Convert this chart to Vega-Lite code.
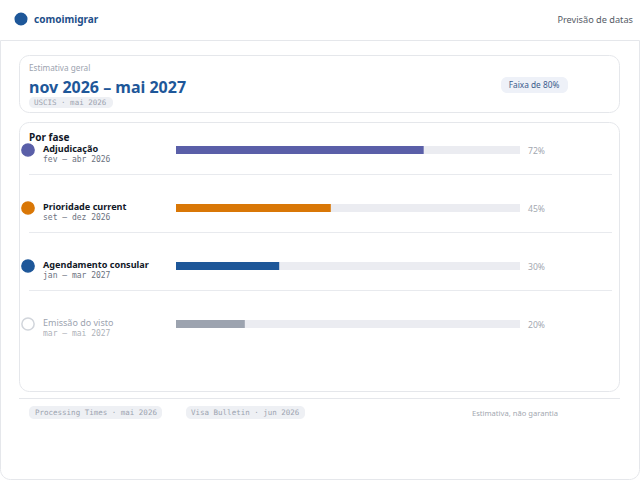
{
  "$schema": "https://vega.github.io/schema/vega-lite/v6.json",
  "width": 640,
  "height": 480,
  "autosize": {"type": "none"},
  "padding": 0,
  "background": "#ffffff",
  "config": {"view": {"stroke": null}, "text": {"font": "Noto Sans"}},
  "datasets": {
    "fases": [
      {"fase": "Adjudicação", "periodo": "fev – abr 2026", "pct": 0.72, "estado": "ativo", "ultima": false},
      {"fase": "Prioridade current", "periodo": "set – dez 2026", "pct": 0.45, "estado": "ativo", "ultima": false},
      {"fase": "Agendamento consular", "periodo": "jan – mar 2027", "pct": 0.30, "estado": "ativo", "ultima": false},
      {"fase": "Emissão do visto", "periodo": "mar – mai 2027", "pct": 0.20, "estado": "pendente", "ultima": true}
    ],
    "resumo": [
      {"marca": "comoimigrar", "pagina": "Previsão de datas", "titulo": "Estimativa geral", "estimativa": "nov 2026 – mai 2027", "fonte": "USCIS · mai 2026", "faixa": "Faixa de 80%", "secao": "Por fase", "fonte1": "Processing Times · mai 2026", "fonte2": "Visa Bulletin · jun 2026", "aviso": "Estimativa, não garantia"}
    ]
  },
  "layer": [
    {
      "data": {"name": "resumo"},
      "mark": {"type": "rect", "fill": "#ffffff", "stroke": "#e5e7eb", "strokeWidth": 1, "cornerRadiusBottomLeft": 10, "cornerRadiusBottomRight": 10},
      "encoding": {"x": {"value": 0.5}, "x2": {"value": 639.5}, "y": {"value": 40.5}, "y2": {"value": 479.5}}
    },
    {
      "data": {"name": "resumo"},
      "mark": {"type": "rect", "fill": "#ffffff", "stroke": "#e5e7eb", "strokeWidth": 1, "cornerRadius": 10},
      "encoding": {"x": {"value": 19.5}, "x2": {"value": 619.5}, "y": {"value": 55.5}, "y2": {"value": 112.5}}
    },
    {
      "data": {"name": "resumo"},
      "mark": {"type": "rect", "fill": "#ffffff", "stroke": "#e5e7eb", "strokeWidth": 1, "cornerRadius": 10},
      "encoding": {"x": {"value": 19.5}, "x2": {"value": 619.5}, "y": {"value": 122.5}, "y2": {"value": 391.5}}
    },
    {
      "data": {"name": "resumo"},
      "mark": {"type": "rule", "stroke": "#e5e7eb", "strokeWidth": 1},
      "encoding": {"x": {"value": 19}, "x2": {"value": 620}, "y": {"value": 398.5}}
    },
    {
      "data": {"name": "resumo"},
      "mark": {"type": "rect", "fill": "#eef0f4", "cornerRadius": 5},
      "encoding": {"x": {"value": 29}, "x2": {"value": 113}, "y": {"value": 97}, "y2": {"value": 108}}
    },
    {
      "data": {"name": "resumo"},
      "mark": {"type": "rect", "fill": "#eef1f8", "cornerRadius": 6},
      "encoding": {"x": {"value": 501}, "x2": {"value": 568}, "y": {"value": 77}, "y2": {"value": 93}}
    },
    {
      "data": {"name": "resumo"},
      "mark": {"type": "rect", "fill": "#eef0f4", "cornerRadius": 5},
      "encoding": {"x": {"value": 29}, "x2": {"value": 162}, "y": {"value": 406}, "y2": {"value": 419}}
    },
    {
      "data": {"name": "resumo"},
      "mark": {"type": "rect", "fill": "#eef0f4", "cornerRadius": 5},
      "encoding": {"x": {"value": 186}, "x2": {"value": 305}, "y": {"value": 406}, "y2": {"value": 419}}
    },
    {
      "data": {"name": "resumo"},
      "mark": {"type": "circle", "fill": "#1e5799", "size": 170, "opacity": 1},
      "encoding": {"x": {"value": 21}, "y": {"value": 19}}
    },
    {
      "data": {"name": "resumo"},
      "mark": {"type": "text", "align": "left", "baseline": "middle", "fontWeight": "bold", "fontSize": 10, "fill": "#1e4f8a"},
      "encoding": {"x": {"value": 34}, "y": {"value": 20}, "text": {"field": "marca"}}
    },
    {
      "data": {"name": "resumo"},
      "mark": {"type": "text", "align": "right", "baseline": "middle", "fontSize": 9.2, "fill": "#555b66"},
      "encoding": {"x": {"value": 633}, "y": {"value": 20}, "text": {"field": "pagina"}}
    },
    {
      "data": {"name": "resumo"},
      "mark": {"type": "text", "align": "left", "baseline": "middle", "fontSize": 8.2, "fill": "#9ca3af"},
      "encoding": {"x": {"value": 29}, "y": {"value": 69}, "text": {"field": "titulo"}}
    },
    {
      "data": {"name": "resumo"},
      "mark": {"type": "text", "align": "left", "baseline": "alphabetic", "fontSize": 16, "fontWeight": "bold", "fill": "#1e5799"},
      "encoding": {"x": {"value": 29}, "y": {"value": 93}, "text": {"field": "estimativa"}}
    },
    {
      "data": {"name": "resumo"},
      "mark": {"type": "text", "align": "left", "baseline": "middle", "fontSize": 7.5, "font": "DejaVu Sans Mono", "fill": "#9ca3af"},
      "encoding": {"x": {"value": 34}, "y": {"value": 103}, "text": {"field": "fonte"}}
    },
    {
      "data": {"name": "resumo"},
      "mark": {"type": "text", "align": "center", "baseline": "middle", "fontSize": 8.3, "fill": "#3b5b8c"},
      "encoding": {"x": {"value": 534}, "y": {"value": 86}, "text": {"field": "faixa"}}
    },
    {
      "data": {"name": "resumo"},
      "mark": {"type": "text", "align": "left", "baseline": "alphabetic", "fontSize": 10, "fontWeight": "bold", "fill": "#111827"},
      "encoding": {"x": {"value": 29}, "y": {"value": 141}, "text": {"field": "secao"}}
    },
    {
      "data": {"name": "resumo"},
      "mark": {"type": "text", "align": "left", "baseline": "middle", "fontSize": 7.5, "font": "DejaVu Sans Mono", "fill": "#9ca3af"},
      "encoding": {"x": {"value": 35}, "y": {"value": 413}, "text": {"field": "fonte1"}}
    },
    {
      "data": {"name": "resumo"},
      "mark": {"type": "text", "align": "left", "baseline": "middle", "fontSize": 7.5, "font": "DejaVu Sans Mono", "fill": "#9ca3af"},
      "encoding": {"x": {"value": 191}, "y": {"value": 413}, "text": {"field": "fonte2"}}
    },
    {
      "data": {"name": "resumo"},
      "mark": {"type": "text", "align": "center", "baseline": "middle", "fontSize": 7.6, "fill": "#a3a8b0"},
      "encoding": {"x": {"value": 515}, "y": {"value": 414}, "text": {"field": "aviso"}}
    },
    {
      "data": {"name": "fases"},
      "transform": [{"filter": "!datum.ultima"}],
      "mark": {"type": "rule", "stroke": "#e8eaee", "strokeWidth": 1, "yOffset": 24.5},
      "encoding": {
        "y": {"field": "fase", "type": "nominal", "sort": null, "axis": null,
              "scale": {"domain": ["Adjudicação", "Prioridade current", "Agendamento consular", "Emissão do visto"], "range": [121, 353], "paddingInner": 0, "paddingOuter": 0}},
        "x": {"value": 29},
        "x2": {"value": 612}
      }
    },
    {
      "data": {"name": "fases"},
      "mark": {"type": "bar", "height": 8, "fill": "#ebecf1"},
      "encoding": {
        "y": {"field": "fase", "type": "nominal", "sort": null, "axis": null},
        "x": {"datum": 0, "type": "quantitative", "axis": null, "scale": {"domain": [0, 1], "range": [176, 520]}},
        "x2": {"datum": 1}
      }
    },
    {
      "data": {"name": "fases"},
      "mark": {"type": "bar", "height": 8},
      "encoding": {
        "y": {"field": "fase", "type": "nominal", "sort": null, "axis": null},
        "x": {"field": "pct", "type": "quantitative", "axis": null},
        "x2": {"datum": 0},
        "color": {
          "field": "fase", "type": "nominal", "legend": null,
          "scale": {"domain": ["Adjudicação", "Prioridade current", "Agendamento consular", "Emissão do visto"], "range": ["#5a5fa8", "#d97706", "#1e5799", "#9ca3af"]}
        }
      }
    },
    {
      "data": {"name": "fases"},
      "mark": {"type": "text", "align": "left", "baseline": "middle", "fontSize": 8.6, "fill": "#a3a8b0", "dx": 8, "dy": 1},
      "encoding": {
        "y": {"field": "fase", "type": "nominal", "sort": null, "axis": null},
        "x": {"datum": 1, "type": "quantitative"},
        "text": {"field": "pct", "type": "quantitative", "format": ".0%"}
      }
    },
    {
      "data": {"name": "fases"},
      "mark": {"type": "circle", "size": 150, "strokeWidth": 1.5, "opacity": 1},
      "encoding": {
        "y": {"field": "fase", "type": "nominal", "sort": null, "axis": null},
        "x": {"value": 28},
        "fill": {
          "field": "fase", "type": "nominal", "legend": null,
          "scale": {"domain": ["Adjudicação", "Prioridade current", "Agendamento consular", "Emissão do visto"], "range": ["#5a5fa8", "#d97706", "#1e5799", "#ffffff"]}
        },
        "stroke": {
          "field": "fase", "type": "nominal", "legend": null,
          "scale": {"domain": ["Adjudicação", "Prioridade current", "Agendamento consular", "Emissão do visto"], "range": ["#5a5fa8", "#d97706", "#1e5799", "#d1d5db"]}
        }
      }
    },
    {
      "data": {"name": "fases"},
      "transform": [{"filter": "datum.estado == 'ativo'"}],
      "mark": {"type": "text", "align": "left", "baseline": "alphabetic", "fontSize": 9.1, "fontWeight": "bold", "fill": "#111827", "dy": 2},
      "encoding": {
        "y": {"field": "fase", "type": "nominal", "sort": null, "axis": null},
        "x": {"value": 43},
        "text": {"field": "fase"}
      }
    },
    {
      "data": {"name": "fases"},
      "transform": [{"filter": "datum.estado != 'ativo'"}],
      "mark": {"type": "text", "align": "left", "baseline": "alphabetic", "fontSize": 9, "fill": "#9ca3af", "dy": 2},
      "encoding": {
        "y": {"field": "fase", "type": "nominal", "sort": null, "axis": null},
        "x": {"value": 43},
        "text": {"field": "fase"}
      }
    },
    {
      "data": {"name": "fases"},
      "mark": {"type": "text", "align": "left", "baseline": "alphabetic", "fontSize": 8, "font": "DejaVu Sans Mono", "dy": 12, "fill": "#6b7280"},
      "encoding": {
        "y": {"field": "fase", "type": "nominal", "sort": null, "axis": null},
        "x": {"value": 43},
        "text": {"field": "periodo"},
        "opacity": {"condition": {"test": "datum.estado == 'ativo'", "value": 1}, "value": 0.55}
      }
    }
  ]
}
